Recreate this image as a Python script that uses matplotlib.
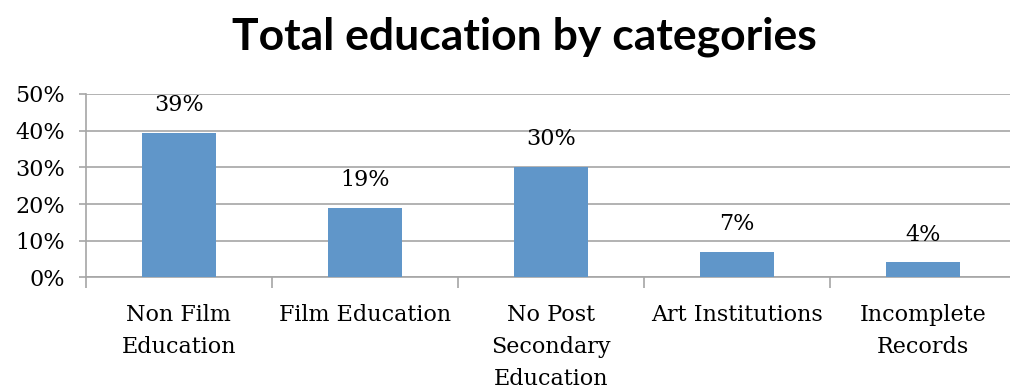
import numpy as np
import matplotlib
matplotlib.use('Agg')
import matplotlib.pyplot as plt
from matplotlib.ticker import PercentFormatter

# data
categories = ['Non Film\nEducation', 'Film Education', 'No Post\nSecondary\nEducation',
              'Art Institutions', 'Incomplete\nRecords']
shares = [39.3, 19.0, 30.2, 7.0, 4.1]
share_labels = ['39%', '19%', '30%', '7%', '4%']

serif = 'DejaVu Serif'

fig = plt.figure(figsize=(10.1, 3.9), dpi=100)
ax = fig.add_axes([0.085, 0.2885, 0.921, 0.4705])

x = np.arange(len(categories))
bars = ax.bar(x, shares, width=0.4, color='#6096C9', zorder=3)

for b, lab in zip(bars, share_labels):
    ax.annotate(lab, (b.get_x() + b.get_width() / 2, b.get_height()),
                xytext=(0, 20), textcoords='offset points', ha='center', va='center',
                fontsize=16, family=serif)

ax.set_xlim(-0.5, len(categories) - 0.5)
ax.set_ylim(0, 50)
ax.set_yticks(range(0, 51, 10))
ax.yaxis.set_major_formatter(PercentFormatter(decimals=0))
ax.grid(axis='y', color='#A6A6A6', linewidth=1.2, zorder=0)

ax.set_xticks(x)
ax.set_xticklabels(categories, fontsize=16, family=serif, linespacing=1.6, va='top')
ax.tick_params(axis='x', length=0, pad=19)
ax.set_xticks(np.arange(-0.5, len(categories) + 0.5, 1), minor=True)
ax.tick_params(axis='x', which='minor', length=8, color='#A6A6A6', width=1.2)
ax.tick_params(axis='y', length=5, color='#A6A6A6', width=1.2, labelsize=16, pad=10)
for t in ax.get_yticklabels():
    t.set_family(serif)

for s in ['top', 'right']:
    ax.spines[s].set_visible(False)
for s in ['left', 'bottom']:
    ax.spines[s].set_color('#A6A6A6')
    ax.spines[s].set_linewidth(1.2)

fig.text(0.519, 0.906, 'Total education by categories', ha='center', va='center',
         fontsize=32, fontweight='bold', family='Lato')

fig.savefig('out.png', dpi=100)
